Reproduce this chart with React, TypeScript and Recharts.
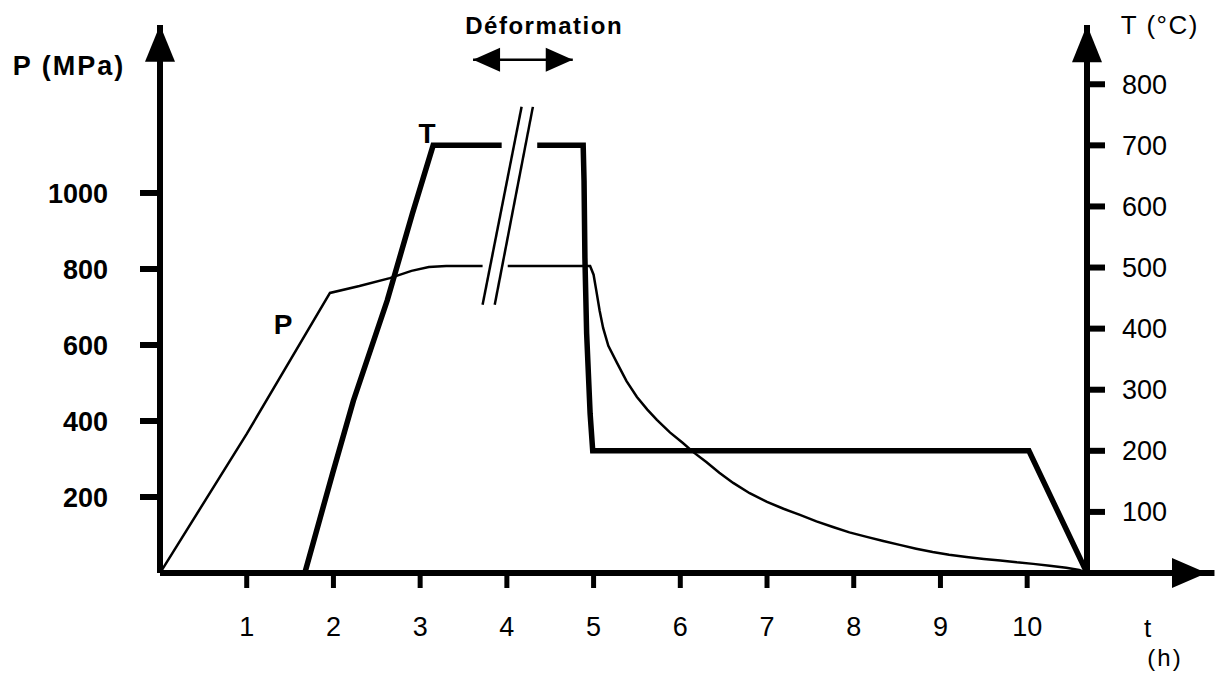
import { LineChart, Line, XAxis, YAxis, ReferenceLine, ReferenceDot } from "recharts";

// pressure P (MPa) against time t (h); null = break in the curve
const pTime = [0, 1.0, 1.96, 2.3, 2.65, 2.9, 3.1, 3.3, 3.72, 3.86, 4.01, 4.96, 5.0, 5.03, 5.07, 5.11, 5.17, 5.27, 5.38, 5.5, 5.62, 5.73, 5.88, 6.03, 6.15, 6.3, 6.45, 6.61, 6.8, 7.0, 7.19, 7.38, 7.57, 7.76, 7.95, 8.15, 8.34, 8.53, 8.72, 8.91, 9.1, 9.3, 9.5, 9.69, 9.88, 10.07, 10.26, 10.45, 10.6, 10.69];
const pValue = [0, 366, 737, 755, 776, 795, 805, 808, 808, null, 808, 808, 785, 745, 690, 645, 598, 553, 505, 463, 430, 403, 370, 342, 318, 292, 264, 237, 210, 187, 169, 153, 136, 121, 107, 95, 84, 74, 64, 55, 48, 42, 37, 33, 28, 24, 19, 14, 8, 0];

// temperature T (°C) against time t (h)
const tTime = [1.67, 1.99, 2.23, 2.62, 2.91, 3.15, 3.94, 4.14, 4.35, 4.88, 4.89, 4.9, 4.92, 4.96, 4.99, 10.02, 10.69];
const tValue = [0, 163, 282, 446, 588, 700, 700, null, 700, 700, 642, 516, 392, 261, 200, 200, 0];

const timeTicks = [1, 2, 3, 4, 5, 6, 7, 8, 9, 10];
const pTicks = [200, 400, 600, 800, 1000];
const tTicks = [100, 200, 300, 400, 500, 600, 700, 800];

const pData = pTime.map((t, i) => ({ t, p: pValue[i] }));
const tData = tTime.map((t, i) => ({ t, temp: tValue[i] }));

const FONT = "'Liberation Sans', Arial, sans-serif";
const T_END = 10.69;
const P_MAX = 1442;
const T_MAX = 897;

function head(x1: number, y1: number, x2: number, y2: number, half: number) {
  const len = Math.hypot(x2 - x1, y2 - y1) || 1;
  const nx = -(y2 - y1) / len;
  const ny = (x2 - x1) / len;
  return `M${x2},${y2} L${x1 + nx * half},${y1 + ny * half} L${x1 - nx * half},${y1 - ny * half} Z`;
}

const arrowHead = (props: any) => (
  <path d={head(props.x1, props.y1, props.x2, props.y2, 15)} fill="#000" />
);

const doubleArrow = (props: any) => {
  const { x1, y1, x2, y2 } = props;
  return (
    <g>
      <line x1={x1} y1={y1} x2={x2} y2={y2} stroke="#000" strokeWidth={2.5} />
      <path d={head(x1 + 27, y1, x1, y1, 12)} fill="#000" />
      <path d={head(x2 - 27, y2, x2, y2, 12)} fill="#000" />
    </g>
  );
};

const textAt = (value: string, size: number, weight: string | number = "normal", spacing = 0) =>
  (props: any) => (
    <text
      x={props.cx}
      y={props.cy}
      textAnchor="middle"
      dominantBaseline="central"
      fontFamily={FONT}
      fontSize={size}
      fontWeight={weight}
      letterSpacing={spacing}
      fill="#000"
    >
      {value}
    </text>
  );

export default function App() {
  return (
    <div style={{ position: "absolute", left: 0, top: 0, background: "#fff" }}>
      <LineChart width={1215} height={675} margin={{ top: 25, right: 10, bottom: 10, left: 10 }}>
        <XAxis
          dataKey="t"
          type="number"
          domain={[0, T_END]}
          ticks={timeTicks}
          allowDataOverflow
          height={92}
          tickSize={15}
          tickMargin={29}
          axisLine={{ stroke: "#000", strokeWidth: 6 }}
          tickLine={{ stroke: "#000", strokeWidth: 5 }}
          tick={{ fill: "#000", fontSize: 27, fontFamily: FONT }}
        />
        <YAxis
          yAxisId="p"
          type="number"
          domain={[0, P_MAX]}
          ticks={pTicks}
          allowDataOverflow
          width={150}
          tickSize={20}
          tickMargin={32}
          axisLine={{ stroke: "#000", strokeWidth: 6 }}
          tickLine={{ stroke: "#000", strokeWidth: 6 }}
          tick={{ fill: "#000", fontSize: 27, fontFamily: FONT, fontWeight: "bold" }}
        />
        <YAxis
          yAxisId="t"
          orientation="right"
          type="number"
          domain={[0, T_MAX]}
          ticks={tTicks}
          allowDataOverflow
          width={118}
          tickSize={18}
          tickMargin={17}
          axisLine={{ stroke: "#000", strokeWidth: 6 }}
          tickLine={{ stroke: "#000", strokeWidth: 6 }}
          tick={{ fill: "#000", fontSize: 27, fontFamily: FONT }}
        />

        <Line
          yAxisId="p"
          data={pData}
          dataKey="p"
          type="linear"
          stroke="#000"
          strokeWidth={2.5}
          dot={false}
          activeDot={false}
          connectNulls={false}
          isAnimationActive={false}
        />
        <Line
          yAxisId="t"
          data={tData}
          dataKey="temp"
          type="linear"
          stroke="#000"
          strokeWidth={5.5}
          strokeLinejoin="miter"
          dot={false}
          activeDot={false}
          connectNulls={false}
          isAnimationActive={false}
        />

        {/* break marks */}
        <ReferenceLine yAxisId="t" ifOverflow="visible" stroke="#000" strokeWidth={2.5}
          segment={[{ x: 4.17, y: 763 }, { x: 3.72, y: 439 }]} />
        <ReferenceLine yAxisId="t" ifOverflow="visible" stroke="#000" strokeWidth={2.5}
          segment={[{ x: 4.3, y: 763 }, { x: 3.86, y: 439 }]} />

        {/* deformation window */}
        <ReferenceLine yAxisId="t" ifOverflow="visible" shape={doubleArrow}
          segment={[{ x: 3.61, y: 840 }, { x: 4.76, y: 840 }]} />
        <ReferenceDot yAxisId="t" x={4.43} y={T_MAX} ifOverflow="visible" shape={textAt("Déformation", 24, "bold", 1.5)} />

        {/* axis arrows */}
        <ReferenceLine yAxisId="p" ifOverflow="visible" shape={arrowHead}
          segment={[{ x: 0, y: 1345 }, { x: 0, y: P_MAX }]} />
        <ReferenceLine yAxisId="t" ifOverflow="visible" shape={arrowHead}
          segment={[{ x: T_END, y: 836 }, { x: T_END, y: T_MAX }]} />
        <ReferenceLine yAxisId="p" ifOverflow="visible" stroke="#000" strokeWidth={6}
          segment={[{ x: T_END, y: 0 }, { x: 12.16, y: 0 }]} />
        <ReferenceLine yAxisId="p" ifOverflow="visible" shape={arrowHead}
          segment={[{ x: 11.67, y: 0 }, { x: 12.07, y: 0 }]} />

        {/* axis titles and curve labels */}
        <ReferenceDot yAxisId="p" x={-1.05} y={1334} ifOverflow="visible" shape={textAt("P (MPa)", 27, "bold", 2)} />
        <ReferenceDot yAxisId="t" x={11.53} y={T_MAX} ifOverflow="visible" shape={textAt("T (°C)", 26, "normal", 1.5)} />
        <ReferenceDot yAxisId="p" x={11.39} y={-145} ifOverflow="visible" shape={textAt("t", 26)} />
        <ReferenceDot yAxisId="p" x={11.59} y={-222} ifOverflow="visible" shape={textAt("(h)", 24, "normal", 2)} />
        <ReferenceDot yAxisId="t" x={3.08} y={720} ifOverflow="visible" shape={textAt("T", 28, "bold")} />
        <ReferenceDot yAxisId="p" x={1.42} y={653} ifOverflow="visible" shape={textAt("P", 28, "bold")} />
      </LineChart>
    </div>
  );
}
